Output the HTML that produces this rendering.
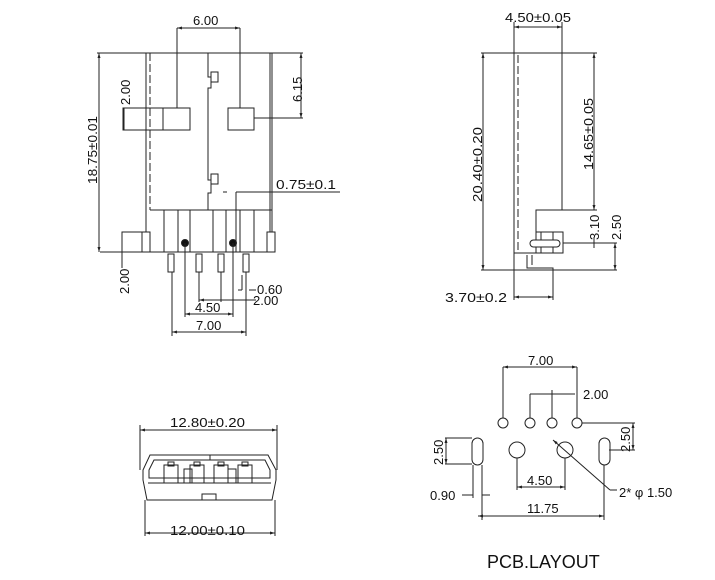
<!DOCTYPE html>
<html><head><meta charset="utf-8"><style>
html,body{margin:0;padding:0;background:#fff;width:715px;height:580px;overflow:hidden}
svg{display:block}
text{font-family:"Liberation Sans",Arial,sans-serif;font-size:13px;fill:#111}
</style></head><body>
<svg width="715" height="580" viewBox="0 0 715 580" stroke="#222" stroke-width="1" fill="none">
<defs>
<marker id="a" viewBox="0 0 10 10" refX="10" refY="5" markerWidth="5" markerHeight="5" orient="auto-start-reverse"><path d="M0,2L10,5L0,8z" fill="#222" stroke="none"/></marker>
</defs>
<!-- ===== TOP LEFT VIEW ===== -->
<line x1="177" y1="28" x2="240" y2="28" marker-start="url(#a)" marker-end="url(#a)"/>
<text x="193" y="25" stroke="none">6.00</text>
<line x1="177" y1="28" x2="177" y2="108"/><line x1="240" y1="28" x2="240" y2="108"/>
<line x1="97" y1="53" x2="303" y2="53"/>
<line x1="99" y1="53" x2="99" y2="252" marker-start="url(#a)" marker-end="url(#a)"/>
<text transform="translate(97,184) rotate(-90)" stroke="none" textLength="68" lengthAdjust="spacingAndGlyphs">18.75±0.01</text>
<line x1="146" y1="53" x2="146" y2="232"/>
<line x1="150" y1="53" x2="150" y2="210" stroke-dasharray="8,3"/>
<line x1="270" y1="53" x2="270" y2="232"/><line x1="272" y1="53" x2="272" y2="232"/>
<path d="M208,53V77H211V88H208V180H211V193H208V210"/>
<rect x="211" y="72" width="7" height="10"/><rect x="211" y="174" width="7" height="10"/>
<rect x="123" y="108" width="67" height="22"/><line x1="163" y1="108" x2="163" y2="130"/>
<text transform="translate(130,105) rotate(-90)" stroke="none">2.00</text>
<line x1="124" y1="108" x2="124" y2="130"/>
<rect x="228" y="108" width="26" height="22"/>
<line x1="254" y1="118" x2="303" y2="118"/>
<line x1="301" y1="53" x2="301" y2="118" marker-start="url(#a)" marker-end="url(#a)"/>
<text transform="translate(302,102) rotate(-90)" stroke="none">6.15</text>
<line x1="150" y1="210" x2="272" y2="210"/>
<path d="M164,210V252M178,210V252M190,210V252M213,210V252M226,210V252M240,210V252M254,210V252"/>
<line x1="100" y1="252" x2="275" y2="252"/>
<rect x="122" y="232" width="28" height="20"/><line x1="142" y1="232" x2="142" y2="252"/>
<rect x="267" y="232" width="8" height="20"/>
<circle cx="185" cy="243" r="3.5" fill="#111"/><circle cx="233" cy="243" r="3.5" fill="#111"/>
<rect x="168" y="254" width="6" height="18"/><rect x="196" y="254" width="6" height="18"/>
<rect x="218" y="254" width="6" height="18"/><rect x="243" y="254" width="6" height="18"/>
<line x1="122" y1="252" x2="122" y2="268"/>
<text transform="translate(129,294) rotate(-90)" stroke="none">2.00</text>
<text x="276" y="189" stroke="none" textLength="60" lengthAdjust="spacingAndGlyphs">0.75±0.1</text>
<line x1="223" y1="192" x2="227" y2="192"/><line x1="236" y1="192" x2="340" y2="192"/>
<line x1="236" y1="192" x2="236" y2="252"/>
<line x1="172" y1="272" x2="172" y2="336"/><line x1="246" y1="272" x2="246" y2="336"/>
<line x1="199" y1="272" x2="199" y2="302"/><line x1="221" y1="272" x2="221" y2="302"/>
<line x1="185" y1="243" x2="185" y2="317"/><line x1="233" y1="243" x2="233" y2="317"/>
<line x1="242" y1="275" x2="242" y2="290"/>
<line x1="238" y1="290" x2="242" y2="290"/><line x1="249" y1="290" x2="256" y2="290"/>
<text x="257" y="294" stroke="none">0.60</text>
<line x1="199" y1="300" x2="256" y2="300" marker-start="url(#a)"/>
<text x="253" y="305" stroke="none">2.00</text>
<line x1="185" y1="314" x2="233" y2="314" marker-start="url(#a)" marker-end="url(#a)"/>
<text x="195" y="312" stroke="none">4.50</text>
<line x1="172" y1="332" x2="246" y2="332" marker-start="url(#a)" marker-end="url(#a)"/>
<text x="196" y="330" stroke="none">7.00</text>
<!-- ===== TOP RIGHT VIEW ===== -->
<line x1="514" y1="27" x2="562" y2="27" marker-start="url(#a)" marker-end="url(#a)"/>
<text x="505" y="22" stroke="none" textLength="66" lengthAdjust="spacingAndGlyphs">4.50±0.05</text>
<line x1="514" y1="22" x2="514" y2="253"/>
<line x1="518" y1="55" x2="518" y2="250" stroke-dasharray="8,3"/>
<line x1="562" y1="22" x2="562" y2="210"/>
<line x1="481" y1="53" x2="597" y2="53"/>
<line x1="483" y1="53" x2="483" y2="270" marker-start="url(#a)" marker-end="url(#a)"/>
<text transform="translate(482,202) rotate(-90)" stroke="none" textLength="75" lengthAdjust="spacingAndGlyphs">20.40±0.20</text>
<line x1="594" y1="53" x2="594" y2="210" marker-start="url(#a)" marker-end="url(#a)"/>
<text transform="translate(593,170) rotate(-90)" stroke="none" textLength="72" lengthAdjust="spacingAndGlyphs">14.65±0.05</text>
<path d="M597,210H536V232"/>
<rect x="536" y="232" width="27" height="21"/>
<line x1="541" y1="232" x2="541" y2="253"/><line x1="553" y1="232" x2="553" y2="253"/>
<rect x="530" y="240" width="30" height="7" rx="3.5" fill="#fff"/>
<line x1="563" y1="243" x2="617" y2="243"/>
<text transform="translate(599,240) rotate(-90)" stroke="none">3.10</text>
<line x1="594" y1="237" x2="594" y2="248"/>
<text transform="translate(621,240) rotate(-90)" stroke="none">2.50</text>
<line x1="615" y1="243" x2="615" y2="270" marker-start="url(#a)" marker-end="url(#a)"/>
<line x1="514" y1="253" x2="536" y2="253"/>
<path d="M527,255V268H553V273"/><path d="M532,255V265"/>
<line x1="481" y1="270" x2="617" y2="270"/>
<line x1="553" y1="268" x2="553" y2="300"/>
<line x1="514" y1="253" x2="514" y2="300"/>
<line x1="514" y1="297" x2="553" y2="297" marker-start="url(#a)" marker-end="url(#a)"/>
<text x="445" y="302" stroke="none" textLength="62" lengthAdjust="spacingAndGlyphs">3.70±0.2</text>
<!-- ===== BOTTOM LEFT VIEW ===== -->
<line x1="140" y1="430" x2="277" y2="430" marker-start="url(#a)" marker-end="url(#a)"/>
<line x1="140" y1="425" x2="140" y2="470"/><line x1="277" y1="425" x2="277" y2="470"/>
<text x="170" y="427" stroke="none" textLength="75" lengthAdjust="spacingAndGlyphs">12.80±0.20</text>
<path d="M150,455H268L276,470V480L272,500H147L143,480V470Z"/>
<path d="M154,460H265L270,470V478H149V470Z"/>
<line x1="148" y1="483" x2="271" y2="483"/>
<line x1="210" y1="455" x2="210" y2="460"/>
<rect x="202" y="494" width="14" height="6"/>
<g>
<rect x="164" y="465" width="14" height="18"/><rect x="168" y="462" width="6" height="4"/>
<rect x="184" y="469" width="8" height="14"/>
<rect x="190" y="465" width="14" height="18"/><rect x="194" y="462" width="6" height="4"/>
<rect x="214" y="465" width="14" height="18"/><rect x="218" y="462" width="6" height="4"/>
<rect x="228" y="469" width="8" height="14"/>
<rect x="238" y="465" width="14" height="18"/><rect x="242" y="462" width="6" height="4"/>
</g>
<line x1="145" y1="500" x2="145" y2="536"/><line x1="275" y1="500" x2="275" y2="536"/>
<line x1="145" y1="533" x2="275" y2="533" marker-start="url(#a)" marker-end="url(#a)"/>
<text x="170" y="535" stroke="none" textLength="75" lengthAdjust="spacingAndGlyphs">12.00±0.10</text>
<!-- ===== PCB LAYOUT ===== -->
<line x1="503" y1="367" x2="577" y2="367" marker-start="url(#a)" marker-end="url(#a)"/>
<text x="528" y="365" stroke="none">7.00</text>
<line x1="503" y1="367" x2="503" y2="418"/><line x1="577" y1="367" x2="577" y2="418"/>
<line x1="530" y1="394" x2="575" y2="394"/>
<line x1="530" y1="394" x2="530" y2="418"/><line x1="552" y1="390" x2="552" y2="418"/>
<text x="583" y="399" stroke="none">2.00</text>
<circle cx="503" cy="423" r="5"/><circle cx="530" cy="423" r="5"/>
<circle cx="552" cy="423" r="5"/><circle cx="577" cy="423" r="5"/>
<line x1="582" y1="423" x2="635" y2="423"/>
<line x1="633" y1="423" x2="633" y2="450" marker-start="url(#a)" marker-end="url(#a)"/>
<text transform="translate(630,452) rotate(-90)" stroke="none">2.50</text>
<line x1="609" y1="450" x2="635" y2="450"/>
<circle cx="517" cy="450" r="8"/><circle cx="565" cy="450" r="8"/>
<rect x="472" y="438" width="11" height="27" rx="5.5"/>
<rect x="599" y="438" width="11" height="27" rx="5.5"/>
<line x1="445" y1="438" x2="472" y2="438"/><line x1="445" y1="464" x2="472" y2="464"/>
<line x1="446" y1="438" x2="446" y2="464" marker-start="url(#a)" marker-end="url(#a)"/>
<text transform="translate(443,465) rotate(-90)" stroke="none">2.50</text>
<line x1="517" y1="458" x2="517" y2="490"/><line x1="565" y1="458" x2="565" y2="490"/>
<line x1="517" y1="487" x2="565" y2="487" marker-start="url(#a)" marker-end="url(#a)"/>
<text x="527" y="485" stroke="none">4.50</text>
<line x1="473" y1="465" x2="473" y2="498"/><line x1="482" y1="465" x2="482" y2="520"/>
<line x1="462" y1="495" x2="473" y2="495"/><line x1="482" y1="495" x2="490" y2="495"/>
<text x="430" y="500" stroke="none">0.90</text>
<line x1="604" y1="465" x2="604" y2="520"/>
<line x1="478" y1="516" x2="604" y2="516" marker-start="url(#a)" marker-end="url(#a)"/>
<text x="527" y="513" stroke="none">11.75</text>
<line x1="553" y1="440" x2="610" y2="490" marker-start="url(#a)"/>
<line x1="610" y1="490" x2="617" y2="490"/>
<text x="619" y="497" stroke="none">2* φ 1.50</text>
<text x="487" y="568" stroke="none" style="font-size:18px">PCB.LAYOUT</text>
</svg>
</body></html>
